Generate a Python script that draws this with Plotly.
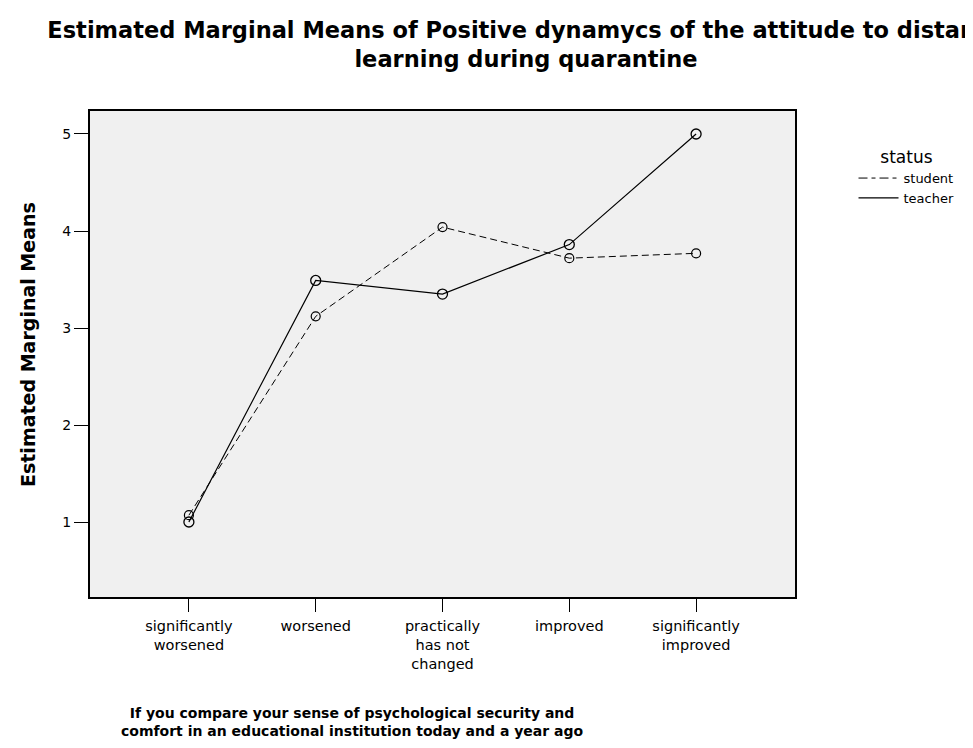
import plotly.graph_objects as go

categories = ["significantly<br>worsened", "worsened", "practically<br>has not<br>changed",
              "improved", "significantly<br>improved"]
student = [1.07, 3.12, 4.04, 3.72, 3.77]
teacher = [1.00, 3.49, 3.35, 3.86, 5.00]
y_ticks = [1, 2, 3, 4, 5]
series_names = ["student", "teacher"]

title_text = ("Estimated Marginal Means of Positive dynamycs of the attitude to distance<br>"
              "learning during quarantine")
x_title = ("If you compare your sense of psychological security and<br>"
           "comfort in an educational institution today and a year ago")
y_title = "Estimated Marginal Means"

# the page body adds an 8px offset; figure is sized/margined to compensate
FIG_W, FIG_H = 965, 740

fig = go.Figure()
fig.add_trace(go.Scatter(
    x=categories, y=student, name=series_names[0], mode="lines+markers", showlegend=False,
    line=dict(color="black", width=1, dash="7px,4px"),
    marker=dict(symbol="circle-open", size=9, color="black", line=dict(width=1.2)),
))
fig.add_trace(go.Scatter(
    x=categories, y=teacher, name=series_names[1], mode="lines+markers", showlegend=False,
    line=dict(color="black", width=1.2),
    marker=dict(symbol="circle-open", size=10, color="black", line=dict(width=1.3)),
))
# legend entries (line samples only, as in the reference)
fig.add_trace(go.Scatter(x=[None], y=[None], name=series_names[0], mode="lines",
                         line=dict(color="black", width=1, dash="9px,4px,4px,4px")))
fig.add_trace(go.Scatter(x=[None], y=[None], name=series_names[1], mode="lines",
                         line=dict(color="black", width=1.2)))

fig.update_layout(
    width=FIG_W, height=FIG_H, autosize=False,
    margin=dict(l=82, r=178, t=103, b=151),
    paper_bgcolor="white", plot_bgcolor="#f0f0f0",
    font=dict(family="DejaVu Sans", color="black"),
    title=dict(text=title_text, x=(526 - 8) / FIG_W, xanchor="center", xref="container",
               y=1 - 30 / FIG_H, yanchor="top", yref="container",
               font=dict(family="DejaVu Sans", size=22.5, weight="bold", color="black")),
    showlegend=True,
    legend=dict(x=1.083, xanchor="left", y=(597 - 141) / 486, yanchor="top",
                bgcolor="rgba(0,0,0,0)",
                title=dict(text="status", side="top center", font=dict(size=17)),
                font=dict(size=13), tracegroupgap=0, itemwidth=40),
    annotations=[
        dict(text=x_title, xref="paper", yref="paper", x=(352 - 90) / 705, y=-(722 - 597) / 486,
             xanchor="center", yanchor="middle", showarrow=False,
             font=dict(family="DejaVu Sans", size=14, weight="bold")),
        dict(text=y_title, xref="paper", yref="paper", x=-(90 - 28) / 705, y=(597 - 345) / 486,
             xanchor="center", yanchor="middle", textangle=-90, showarrow=False,
             font=dict(family="DejaVu Sans", size=19, weight="bold")),
    ],
)
fig.update_xaxes(type="category", range=[-0.78, 4.78], showgrid=False, zeroline=False,
                 showline=True, linecolor="black", linewidth=2, mirror=True,
                 ticks="outside", ticklen=13, tickcolor="black", tickwidth=1.2,
                 tickfont=dict(size=14.5), ticklabelstandoff=2)
fig.update_yaxes(range=[0.227, 5.237], tickvals=y_ticks, showgrid=False, zeroline=False,
                 showline=True, linecolor="black", linewidth=2, mirror=True,
                 ticks="outside", ticklen=14, tickcolor="black", tickwidth=1.2,
                 tickfont=dict(size=14), ticklabelstandoff=0)

fig.write_html("out.html")
